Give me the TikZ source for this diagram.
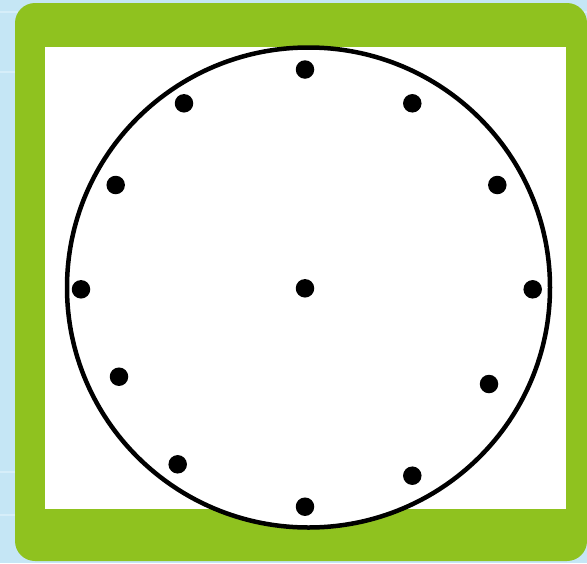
\documentclass[tikz,border=0pt]{standalone}
\definecolor{bgblue}{RGB}{197,230,245}
\definecolor{gridblue}{RGB}{214,238,249}
\definecolor{framegreen}{RGB}{143,194,31}
\tikzset{
  dotmark/.style={circle,fill=black,inner sep=0pt,minimum size=18.5pt},
  gridline/.style={draw=gridblue,line width=1.2pt}
}
\begin{document}
\begin{tikzpicture}[x=1pt,y=-1pt]
\useasboundingbox (0,0) rectangle (587,563);
\fill[bgblue] (0,0) rectangle (587,563);
\foreach \yy in {12,72,472,515} {\draw[gridline] (0,\yy) -- (587,\yy);}
\fill[framegreen,rounded corners=20pt] (15,3) rectangle (587,561);
\fill[white] (45,47) rectangle (566,509);
\draw[fill=white,line width=4.5pt] (308.5,287.5) ellipse [x radius=241.5, y radius=240];
\node[dotmark] (c)  at (305,288.3) {};
\node[dotmark] (d12) at (305,69.5) {};
\node[dotmark] (d1) at (412.3,103.3) {};
\node[dotmark] (d2) at (497.3,185) {};
\node[dotmark] (d3) at (532.7,289.3) {};
\node[dotmark] (d4) at (489,384) {};
\node[dotmark] (d5) at (412.3,475.7) {};
\node[dotmark] (d6) at (305,506.7) {};
\node[dotmark] (d7) at (177.7,464.3) {};
\node[dotmark] (d8) at (119,376.7) {};
\node[dotmark] (d9) at (81,289.3) {};
\node[dotmark] (d10) at (115.7,185) {};
\node[dotmark] (d11) at (184,103.3) {};
\end{tikzpicture}
\end{document}
